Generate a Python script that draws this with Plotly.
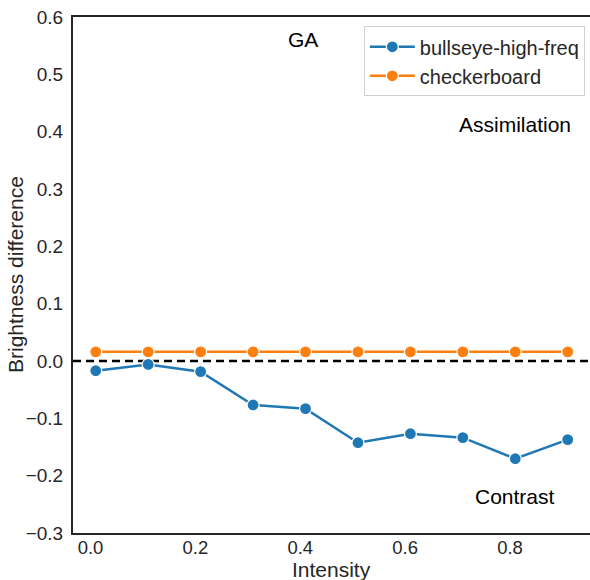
import plotly.graph_objects as go

# Intensity levels and measured brightness differences per stimulus
intensity = [0.01, 0.11, 0.21, 0.31, 0.41, 0.51, 0.61, 0.71, 0.81, 0.91]
bullseye_high_freq = [-0.017, -0.006, -0.0186, -0.0767, -0.0831, -0.1425,
                      -0.1268, -0.1337, -0.1704, -0.1372]
checkerboard = [0.016, 0.016, 0.016, 0.016, 0.016, 0.016, 0.016, 0.016, 0.016, 0.016]

x_ticks = [0.0, 0.2, 0.4, 0.6, 0.8]
y_ticks = [-0.3, -0.2, -0.1, 0.0, 0.1, 0.2, 0.3, 0.4, 0.5, 0.6]

x_range = [-0.0334, 0.9525]
y_range = [-0.3, 0.6]

FONT = "Liberation Sans, Arial, sans-serif"
BLUE = "#1f77b4"
ORANGE = "#ff7f0e"
SPINE = "#262626"

fig = go.Figure()

# reference line at zero difference
fig.add_trace(go.Scatter(
    x=x_range, y=[0, 0], mode="lines",
    line=dict(color="black", width=2.5, dash="8px,5px"),
    showlegend=False, hoverinfo="skip",
))

for name, vals, color in [("bullseye-high-freq", bullseye_high_freq, BLUE),
                          ("checkerboard", checkerboard, ORANGE)]:
    fig.add_trace(go.Scatter(
        x=intensity, y=vals, mode="lines+markers", name=name,
        line=dict(color=color, width=2.5),
        marker=dict(color=color, size=12, line=dict(color="white", width=1.2)),
    ))

text_font = dict(family=FONT, size=21, color="black")
for label, xv, yv in [("GA", 0.406, 0.56),
                      ("Assimilation", 0.81, 0.412),
                      ("Contrast", 0.81, -0.237)]:
    fig.add_annotation(x=xv, y=yv, xref="x", yref="y", text=label,
                       showarrow=False, font=text_font,
                       xanchor="center", yanchor="middle")

# axis titles
fig.add_annotation(x=0.5, y=-36 / 516, xref="paper", yref="paper",
                   text="Intensity", showarrow=False,
                   font=dict(family=FONT, size=21, color=SPINE),
                   xanchor="center", yanchor="middle", borderpad=0)
fig.add_annotation(x=-58 / 517, y=0.5, xref="paper", yref="paper",
                   text="Brightness difference", showarrow=False, textangle=-90,
                   font=dict(family=FONT, size=21, color=SPINE),
                   xanchor="center", yanchor="middle")

fig.update_layout(
    width=590, height=580,
    margin=dict(l=73, r=0, t=17, b=47),
    paper_bgcolor="white", plot_bgcolor="white",
    font=dict(family=FONT, size=19, color=SPINE),
    legend=dict(
        x=0.99, y=0.982, xanchor="right", yanchor="top",
        bgcolor="white", bordercolor="#d0d0d0", borderwidth=1,
        font=dict(family=FONT, size=20, color=SPINE),
        itemwidth=45, tracegroupgap=0,
    ),
    xaxis=dict(
        range=x_range, tickvals=x_ticks, ticktext=[f"{v:.1f}" for v in x_ticks],
        showgrid=False, zeroline=False, showline=True, linecolor=SPINE,
        linewidth=2, mirror=True, ticks="", ticklabelstandoff=-3,
        tickfont=dict(family=FONT, size=18.5, color=SPINE),
    ),
    yaxis=dict(
        range=y_range, tickvals=y_ticks,
        ticktext=[f"{v:.1f}".replace("-", "\u2212") for v in y_ticks],
        showgrid=False, zeroline=False, showline=True, linecolor=SPINE,
        linewidth=2, ticks="", ticklabelstandoff=4,
        tickfont=dict(family=FONT, size=19, color=SPINE),
    ),
)

fig.write_html("out.html")
